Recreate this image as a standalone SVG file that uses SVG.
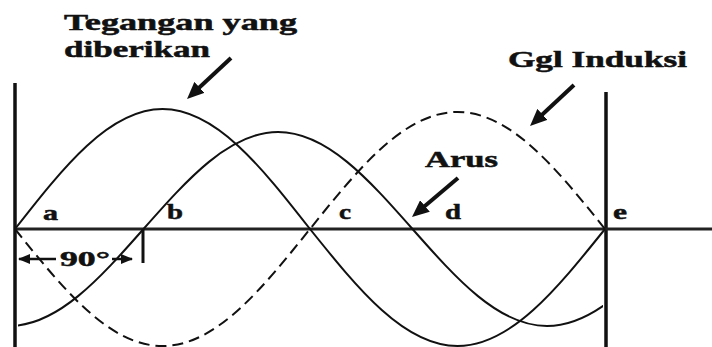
<svg xmlns="http://www.w3.org/2000/svg" width="712" height="347" viewBox="0 0 712 347">
<style>
.big{font-size:23px;}
.lbl{font-size:21px;}
.curve{fill:none;stroke:#111;stroke-width:2;}
.dash{stroke-dasharray:11 6;}
.frame{stroke:#111;stroke-width:3.5;fill:none;}
.callout{stroke:#111;stroke-width:4;fill:none;marker-end:url(#head);}
.dim{stroke:#111;stroke-width:2.5;fill:none;marker-end:url(#small);}
</style>
<defs>
<marker id="head" markerUnits="userSpaceOnUse" viewBox="0 0 17 15" refX="9" refY="7.5" markerWidth="17" markerHeight="15" orient="auto">
<path d="M0,0 L17,7.5 L0,15 Z" fill="#111"/>
</marker>
<marker id="small" markerUnits="userSpaceOnUse" viewBox="0 0 12 10" refX="11" refY="5" markerWidth="12" markerHeight="10" orient="auto">
<path d="M0,0 L12,5 L0,10 Z" fill="#111"/>
</marker>
<clipPath id="clipArus"><rect x="18" y="0" width="585" height="347"/></clipPath>
</defs>
<rect width="712" height="347" fill="#fff"/>

<g id="frame">
<line class="frame" x1="15" y1="83" x2="15" y2="347"/>
<line class="frame" x1="606" y1="92" x2="606" y2="347"/>
<line x1="15" y1="229" x2="712" y2="229" stroke="#222" stroke-width="3"/>
<line x1="143" y1="229" x2="143" y2="263" stroke="#111" stroke-width="3"/>
</g>

<g id="tegangan">
<path class="curve" d="M15,229 C63.1,167.5 109.1,109 162.5,109 C215.9,109 261.9,167.5 310,229 C358.1,289 404.1,346 457.5,346 C510.9,346 556.9,289 605,229"/>
</g>

<g id="arus">
<path class="curve" clip-path="url(#clipArus)" d="M9,326 C57.7,326 99.6,278.7 143.5,229 C187.4,179.3 229.3,132 278,132 C326.7,132 368.6,179.3 412.5,229 C456.4,278.7 498.3,326 547,326 C595.7,326 637.6,278.7 681.5,229"/>
</g>

<g id="ggl-induksi">
<path class="curve dash" d="M15,229 C63.1,288.9 109.1,346 162.5,346 C215.9,346 261.9,288.9 310,229 C358.1,169.1 404.1,112 457.5,112 C510.9,112 556.9,169.1 605,229"/>
</g>

<g id="connectors">
<line class="callout" x1="231" y1="58" x2="192.9" y2="93.5"/>
<line class="callout" x1="574" y1="85" x2="535.9" y2="120.5"/>
<line class="callout" x1="458" y1="178" x2="418.1" y2="211.8"/>
<line class="dim" x1="56" y1="259" x2="19" y2="259"/>
<line class="dim" x1="112" y1="259" x2="132" y2="259"/>
</g>

<g font-family="Liberation Serif, Times New Roman, serif" font-weight="bold" fill="#111" stroke="#111" stroke-width="0.5">
<g id="label-tegangan">
<text class="big" x="64" y="30" textLength="233" lengthAdjust="spacingAndGlyphs">Tegangan yang</text>
<text class="big" x="64" y="57" textLength="146" lengthAdjust="spacingAndGlyphs">diberikan</text>
</g>
<g id="label-ggl">
<text class="big" x="508" y="67" textLength="179" lengthAdjust="spacingAndGlyphs">Ggl Induksi</text>
</g>
<g id="label-arus">
<text class="big" x="425" y="167" textLength="73" lengthAdjust="spacingAndGlyphs">Arus</text>
</g>
<g id="label-90">
<text class="lbl" x="60" y="266" textLength="50" lengthAdjust="spacingAndGlyphs">90°</text>
</g>
<g id="points">
<text class="lbl" x="43" y="220" textLength="15" lengthAdjust="spacingAndGlyphs">a</text>
<text class="lbl" x="167" y="219" textLength="16" lengthAdjust="spacingAndGlyphs">b</text>
<text class="lbl" x="339" y="219" textLength="12" lengthAdjust="spacingAndGlyphs">c</text>
<text class="lbl" x="445" y="219" textLength="16" lengthAdjust="spacingAndGlyphs">d</text>
<text class="lbl" x="613" y="219" textLength="14" lengthAdjust="spacingAndGlyphs">e</text>
</g>
</g>
</svg>
